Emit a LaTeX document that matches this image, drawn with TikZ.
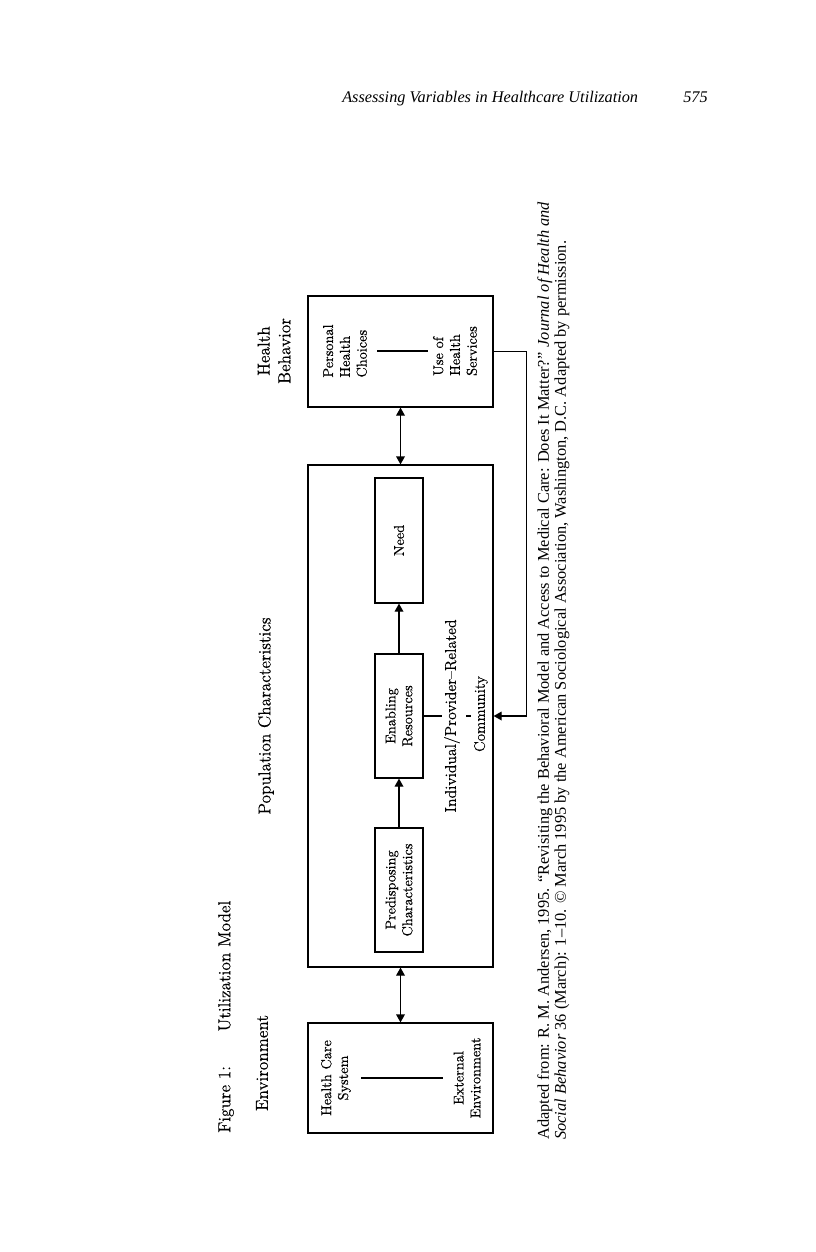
\documentclass[tikz,border=0pt]{standalone}
\usepackage{fontspec}
\setmainfont{Latin Modern Roman}[FakeBold=0.4]
\newfontfamily\notefont{Liberation Serif}
\usetikzlibrary{arrows.meta}
\newcommand{\pxl}{0.75pt}
\tikzset{
  >={Triangle[length=6pt,width=6.5pt]},
  box/.style={draw,line width=.9pt,inner sep=0pt},
  link/.style={->,line width=.9pt},
  dlink/.style={<->,line width=.9pt},
  sep/.style={line width=.9pt},
  vtext/.style={rotate=90,align=center,inner sep=1.5pt,font=\fontsize{10.7}{12.6}\selectfont},
  vhead/.style={vtext,font=\fontsize{13}{15.5}\selectfont}
}
\begin{document}
\begin{tikzpicture}[x=0.75pt,y=0.75pt]
  \useasboundingbox (0,0) rectangle (816,-1252);
  % running head
  \node[anchor=base west,inner sep=0,font=\notefont\itshape\fontsize{12.2}{14}\selectfont] (runhead) at (342,-103) {Assessing Variables in Healthcare Utilization};
  \node[anchor=base east,inner sep=0,font=\notefont\itshape\fontsize{12.2}{14}\selectfont] (pageno) at (708,-103) {575};
  % title and column heads
  \node[vhead,anchor=west,inner sep=0pt] (title) at (226,-1133) {Figure 1:\hspace{2em}Utilization Model};
  \node[vhead] (envhead) at (262,-1063) {Environment};
  \node[vhead] (pophead) at (266,-716) {Population Characteristics};
  \node[vhead] (behhead) at (274,-351) {Health\\Behavior};
  % outer boxes
  \node[box,minimum width=185*\pxl,minimum height=110*\pxl] (env) at (400.5,-1078) {};
  \node[box,minimum width=185*\pxl,minimum height=502*\pxl] (pop) at (400.5,-716) {};
  \node[box,minimum width=185*\pxl,minimum height=111*\pxl] (beh) at (400.5,-351.5) {};
  % inner boxes
  \node[box,minimum width=48*\pxl,minimum height=125*\pxl] (need) at (399,-540.5) {};
  \node[box,minimum width=48*\pxl,minimum height=124*\pxl] (enab) at (399,-716) {};
  \node[box,minimum width=48*\pxl,minimum height=124*\pxl] (pred) at (399,-890) {};
  \node[vtext] (needtxt) at (need) {Need};
  \node[vtext] (enabtxt) at (enab) {Enabling\\Resources};
  \node[vtext] (predtxt) at (pred) {Predisposing\\Characteristics};
  % box texts
  \node[vtext] (hcs) at (336,-1078) {Health Care\\System};
  \node[vtext] (ext) at (467,-1078) {External\\Environment};
  \node[vtext,align=left] (phc) at (345,-351) {Personal\\Health\\Choices};
  \node[vtext,align=left] (uhs) at (455,-351) {Use of\\Health\\Services};
  \node[vtext,font=\fontsize{11.8}{13}\selectfont] (indiv) at (452,-716) {Individual/Provider–Related};
  \node[vtext,font=\fontsize{11.3}{13}\selectfont] (comm) at (481,-714) {Community};
  \draw[sep,shorten <=6pt,shorten >=6pt] (hcs) -- (ext);
  \draw[sep,shorten <=6pt,shorten >=2pt] (phc) -- (uhs);
  \draw[sep] (enab.east) -- (enab.east -| indiv.north);
  \draw[sep,shorten <=3pt,shorten >=1pt] (indiv.south) -- (indiv.south -| comm.north);
  % connectors
  \draw[dlink] (env.north) -- (pop.south);
  \draw[dlink] (pop.north) -- (beh.south);
  \draw[link] (pred.north) -- (enab.south);
  \draw[link] (enab.north) -- (need.south);
  \draw[link] (beh.east) -- ++(33,0) |- (pop.east);
  % source note
  \node[rotate=90,anchor=north west,align=left,inner sep=0,font=\notefont\fontsize{12.3}{12.75}\selectfont] (note) at (537,-1140) {Adapted from: R. M. Andersen, 1995. “Revisiting the Behavioral Model and Access to Medical Care: Does It Matter?” \textit{Journal of Health and}\\\textit{Social Behavior} 36 (March): 1–10. © March 1995 by the American Sociological Association, Washington, D.C. Adapted by permission.};
\end{tikzpicture}
\end{document}
